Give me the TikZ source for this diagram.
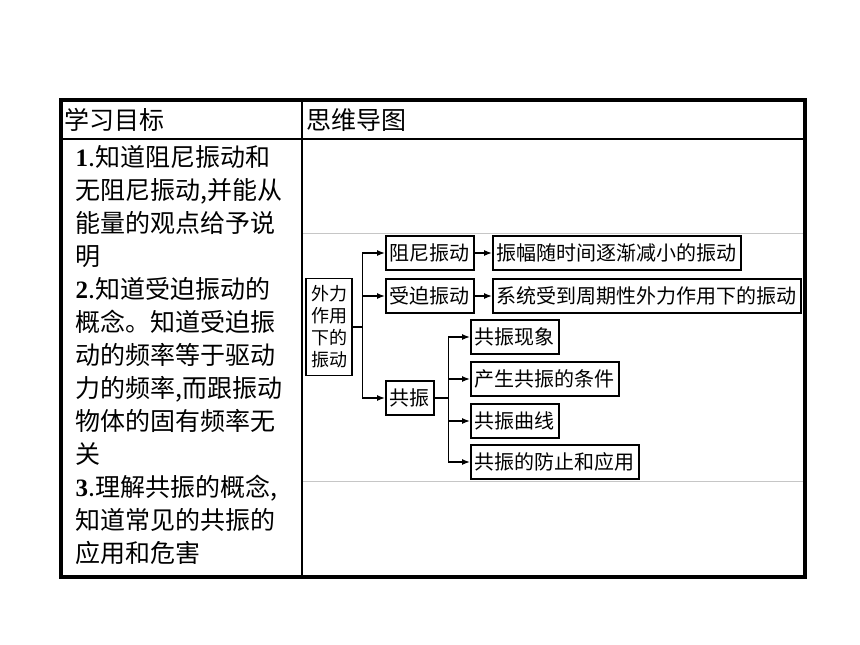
\documentclass[tikz,border=0pt]{standalone}
\usepackage{fontspec}
\usetikzlibrary{arrows.meta}
\setmainfont{Liberation Serif}
\newfontfamily\cjk{Noto Sans CJK SC}
\newcommand\itemnum[1]{{\rmfamily\bfseries #1}}
\tikzset{
  goal/.style={anchor=base west,inner sep=0,font=\cjk\fontsize{25}{30}\selectfont},
  head/.style={anchor=west,inner sep=0,font=\cjk\fontsize{25}{30}\selectfont},
  box/.style={draw,anchor=west,line width=1.6pt,inner xsep=4pt,inner ysep=0pt,minimum height=34pt,font=\cjk\fontsize{20}{24}\selectfont},
  arr/.style={-{Latex[length=8pt,width=6pt]},line width=1.3pt},
  every picture/.style={x=1pt,y=-1pt,line width=1.2pt},
}

\begin{document}
\begin{tikzpicture}
  \useasboundingbox (0,0) rectangle (860,645);
  % table frame
  \draw[gray!45,line width=.8pt] (302,233) -- (805,233) (302,481) -- (805,481);
  \draw (61,139) -- (805,139) (302,100) -- (302,577);
  \draw[line width=3.5pt] (61,100) rectangle (805,577);
  \node[head] (h1) at (64,120){学习目标};
  \node[head] (h2) at (306,120){思维导图};

  % left column
  \foreach \t [count=\i] in {{\itemnum{1}.知道阻尼振动和},{无阻尼振动,并能从},
      {能量的观点给予说},{明},{\itemnum{2}.知道受迫振动的},{概念。知道受迫振},
      {动的频率等于驱动},{力的频率,而跟振动},{物体的固有频率无},{关},
      {\itemnum{3}.理解共振的概念,},{知道常见的共振的},{应用和危害}}
    \node[goal] (g\i) at (75,{166+33*(\i-1)}){\t};

  % mind map
  \node[draw,line width=1.6pt,align=center,inner xsep=5pt,inner ysep=7pt,
    font=\cjk\fontsize{18}{22}\selectfont] (wl) at (329,327){外力\\作用\\下的\\振动};
  \node[box] (zn) at (385,253){阻尼振动};
  \node[box] (sp) at (385,296){受迫振动};
  \node[box] (gz) at (385,398){共振};
  \node[box] (zf) at (492,253){振幅随时间逐渐减小的振动};
  \node[box] (sf) at (492,296){系统受到周期性外力作用下的振动};
  \node[box] (c1) at (470,337){共振现象};
  \node[box] (c2) at (470,379){产生共振的条件};
  \node[box] (c3) at (470,421){共振曲线};
  \node[box] (c4) at (470,462){共振的防止和应用};

  \foreach \n in {zn,sp,gz}
    \draw[arr] (wl.east) -- ++(10,0) |- (\n.west);
  \foreach \n in {c1,c2,c3,c4}
    \draw[arr] (gz.east) -- ++(14,0) |- (\n.west);
  \draw[arr] (zn) -- (zf);
  \draw[arr] (sp) -- (sf);
\end{tikzpicture}
\end{document}
